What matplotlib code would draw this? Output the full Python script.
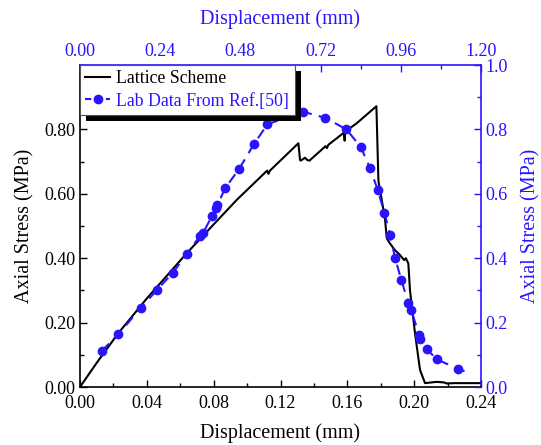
import matplotlib
matplotlib.use("Agg")
import matplotlib.pyplot as plt
from matplotlib.lines import Line2D
import matplotlib.patheffects as pe
from matplotlib.ticker import MultipleLocator

BLUE = "#2a14ff"
INK = "#000000"

plt.rcParams["font.family"] = ["Liberation Serif", "DejaVu Serif"]

# Lattice scheme: bottom axis displacement (mm) vs left axis stress (MPa)
lat_disp = [0.000, 0.010, 0.0229, 0.040, 0.0638, 0.080, 0.0938, 0.1120, 0.1128,
            0.1137, 0.1307, 0.1317, 0.1321, 0.1347, 0.1360, 0.1373, 0.1470,
            0.1478, 0.1486, 0.1580, 0.1584, 0.1586, 0.1600, 0.1656, 0.1774,
            0.1786, 0.1806, 0.1826, 0.1836, 0.1855, 0.1885, 0.1915, 0.1940,
            0.1950, 0.1965, 0.1975, 0.2005, 0.2035, 0.2065, 0.2100, 0.2135,
            0.2180, 0.2195, 0.2240, 0.2400]
lat_stress = [0.000, 0.075, 0.167, 0.275, 0.415, 0.505, 0.581, 0.672, 0.662,
              0.672, 0.757, 0.705, 0.703, 0.712, 0.705, 0.703, 0.748,
              0.742, 0.752, 0.790, 0.765, 0.793, 0.798, 0.819, 0.872,
              0.640, 0.581, 0.519, 0.462, 0.446, 0.425, 0.410, 0.394,
              0.400, 0.384, 0.300, 0.167, 0.053, 0.012, 0.014, 0.016,
              0.014, 0.011, 0.012, 0.012]

# Lab data: top axis displacement (mm) vs right axis stress (MPa)
lab_disp = [0.065, 0.115, 0.182, 0.230, 0.278, 0.319, 0.359, 0.368, 0.395,
            0.408, 0.411, 0.434, 0.476, 0.521, 0.561, 0.667, 0.734, 0.797,
            0.840, 0.868, 0.891, 0.911, 0.928, 0.943, 0.962, 0.983, 0.991,
            1.015, 1.018, 1.038, 1.068, 1.131, 1.167]
lab_stress = [0.112, 0.164, 0.246, 0.301, 0.355, 0.412, 0.469, 0.478, 0.531,
              0.556, 0.564, 0.617, 0.677, 0.755, 0.816, 0.855, 0.836, 0.800,
              0.746, 0.679, 0.612, 0.541, 0.472, 0.400, 0.331, 0.260, 0.239,
              0.161, 0.148, 0.117, 0.086, 0.056, 0.044]

bottom_ticks = [0.00, 0.04, 0.08, 0.12, 0.16, 0.20, 0.24]
left_ticks = [0.00, 0.20, 0.40, 0.60, 0.80]
top_ticks = [0.00, 0.24, 0.48, 0.72, 0.96, 1.20]
right_ticks = [0.0, 0.2, 0.4, 0.6, 0.8, 1.0]

fig = plt.figure(figsize=(5.41, 4.45), dpi=100)
rect = [80 / 541, 58 / 445, 401 / 541, 322 / 445]
ax = fig.add_axes(rect)
ax2 = fig.add_axes(rect, frameon=False)

ax.plot(lat_disp, lat_stress, color=INK, lw=1.5)
ax.set_xlim(0, 0.24)
ax.set_ylim(0, 1.0)
ax.set_xticks(bottom_ticks)
ax.set_xticklabels([f"{t:.2f}" for t in bottom_ticks])
ax.set_yticks(left_ticks)
ax.set_yticklabels([f"{t:.2f}" for t in left_ticks])
ax.xaxis.set_minor_locator(MultipleLocator(0.02))
ax.yaxis.set_minor_locator(MultipleLocator(0.1))
ax.tick_params(which="both", direction="in", labelsize=13, top=False, right=False)
ax.tick_params(axis="x", pad=6)
ax.tick_params(which="major", length=5, width=1)
ax.tick_params(which="minor", length=3, width=1)
ax.set_xlabel("Displacement (mm)", fontsize=14.5, labelpad=8)
ax.set_ylabel("Axial Stress (MPa)", fontsize=14.5, labelpad=7)
for s in ["left", "bottom"]:
    ax.spines[s].set_linewidth(1.2)
for s in ["top", "right"]:
    ax.spines[s].set_color(BLUE)
    ax.spines[s].set_linewidth(1.2)

ax2.plot(lab_disp, lab_stress, color=BLUE, lw=1.5, ls=(0, (5, 3.5)),
         marker="o", ms=6, markevery=list(range(len(lab_disp) - 1)))
ax2.set_xlim(0, 1.2)
ax2.set_ylim(0, 1.0)
ax2.xaxis.tick_top()
ax2.yaxis.tick_right()
ax2.xaxis.set_label_position("top")
ax2.yaxis.set_label_position("right")
ax2.set_xticks(top_ticks)
ax2.set_xticklabels([f"{t:.2f}" for t in top_ticks])
ax2.set_yticks(right_ticks)
ax2.set_yticklabels([f"{t:.1f}" for t in right_ticks])
ax2.xaxis.set_minor_locator(MultipleLocator(0.12))
ax2.yaxis.set_minor_locator(MultipleLocator(0.1))
ax2.tick_params(which="both", direction="in", labelsize=13, colors=BLUE,
                bottom=False, left=False)
ax2.tick_params(which="major", length=5, width=1)
ax2.tick_params(which="minor", length=3, width=1)
ax2.set_xlabel("Displacement (mm)", fontsize=14.5, color=BLUE, labelpad=14)
ax2.set_ylabel("Axial Stress (MPa)", fontsize=14.5, color=BLUE, labelpad=9)

handles = [
    Line2D([], [], color=INK, lw=1.5),
    Line2D([], [], color=BLUE, lw=1.5, ls=(0, (3, 2)), marker="o", ms=6),
]
leg = ax2.legend(handles, ["Lattice Scheme", "Lab Data From Ref.[50]"],
                 loc="upper left", bbox_to_anchor=(0.0, 1.0), borderaxespad=0,
                 fontsize=12.8, frameon=True, fancybox=False, framealpha=1,
                 edgecolor="#555555", handlelength=1.4, handletextpad=0.35,
                 borderpad=0.3, labelspacing=0.3)
leg.get_frame().set_linewidth(0.8)
leg.get_frame().set_path_effects([
    pe.SimplePatchShadow(offset=(4.5, -4.5), shadow_rgbFace="k", alpha=1),
    pe.Normal()])
for txt, c in zip(leg.get_texts(), [INK, BLUE]):
    txt.set_color(c)

fig.savefig("out.png", dpi=100)
